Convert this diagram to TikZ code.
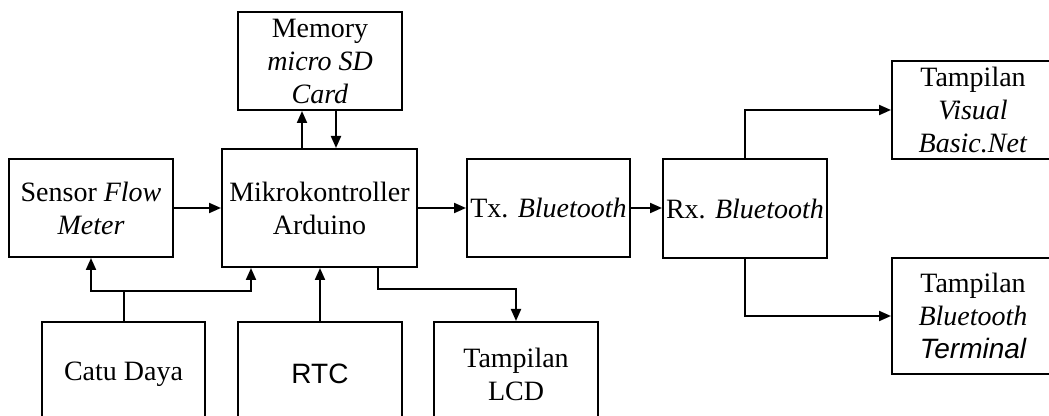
\documentclass[tikz,border=0pt]{standalone}
\usepackage{fontspec}
\setmainfont{Liberation Serif}
\newfontfamily\arialfont{Liberation Sans}
\usetikzlibrary{arrows.meta,calc,positioning}

\begin{document}
\begin{tikzpicture}[x=0.5pt,y=0.5pt]
		\tikzset{blok/.style={draw,line width=1pt,inner sep=0pt,align=center,font=\fontsize{14}{16.5}\selectfont},
		panah/.style={-{Triangle[length=6pt,width=5pt]},line width=1pt}}

		\useasboundingbox (0,0) rectangle (1049,-416);
		\clip (0,0) rectangle (1049,-416);

		\node[blok,minimum width=82pt,minimum height=49pt] (memory) at (320,-61) {Memory\\\textit{micro SD}\\\textit{Card}};
		\node[blok,minimum width=82pt,minimum height=49pt] (sensor) at (91,-208) {Sensor \textit{Flow}\\\textit{Meter}};
		\node[blok,minimum width=97.5pt,minimum height=59pt] (mikro) at (319.5,-208) {Mikrokontroller\\Arduino};
		\node[blok,minimum width=81.5pt,minimum height=49pt] (tx) at (548.5,-208) {Tx. \textit{Bluetooth}};
		\node[blok,minimum width=82pt,minimum height=49.5pt] (rx) at (745,-208.5) {Rx. \textit{Bluetooth}};
		\node[blok,minimum width=81pt,minimum height=49pt] (vb) at (973,-110) {Tampilan\\\textit{Visual}\\\textit{Basic.Net}};
		\node[blok,minimum width=81pt,minimum height=58pt] (bt) at (973,-316) {Tampilan\\\textit{Bluetooth}\\{\arialfont\itshape Terminal}};
		\node[blok,minimum width=81.5pt,minimum height=52pt] (catu) at (123.5,-374) {Catu Daya};
		\node[blok,minimum width=82pt,minimum height=52pt] (rtc) at (320,-374) {\arialfont RTC};
		\node[blok,minimum width=82pt,minimum height=52pt] (lcd) at (516,-374) {Tampilan\\LCD};

		\draw[panah] (sensor.east) -- (sensor.east -| mikro.west);
		\draw[panah] (mikro.east |- tx.west) -- (tx.west);
		\draw[panah] (tx.east) -- (tx.east -| rx.west);
		\draw[panah] ($(mikro.north)+(-17.5,0)$) coordinate (m1) -- (m1 |- memory.south);
		\draw[panah] ($(memory.south)+(16,0)$) coordinate (m2) -- (m2 |- mikro.north);
		\draw[panah] (rx.north) |- (vb.west);
		\draw[panah] (rx.south) |- (bt.west);
		\draw[line width=1pt] (catu.north) -- ++(0,30) coordinate (cabang);
		\draw[panah] (cabang) -| (sensor.south);
		\draw[panah] (cabang) -| ($(mikro.south west)+(30,0)$);
		\draw[panah] (rtc.north) -- (rtc.north |- mikro.south);
		\draw[panah] ($(mikro.south)+(58.5,0)$) -- ++(0,-21) -| (lcd.north);
	\end{tikzpicture}
\end{document}
